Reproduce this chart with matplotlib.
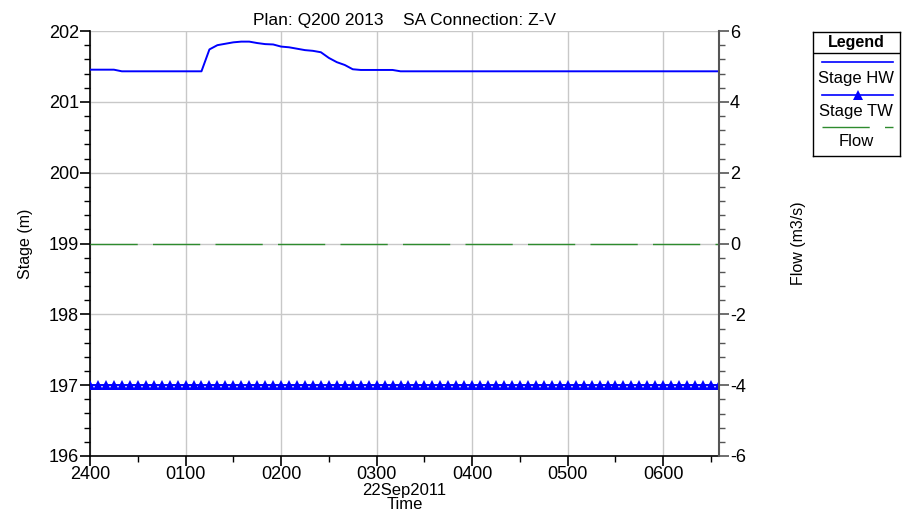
import numpy as np
import matplotlib
matplotlib.use("Agg")
import matplotlib.pyplot as plt
from matplotlib.ticker import MultipleLocator

plt.rcParams["font.family"] = ["Liberation Sans", "DejaVu Sans"]
plt.rcParams["lines.scale_dashes"] = False
plt.rcParams["axes.unicode_minus"] = False

# 5-minute output, minutes after midnight 22Sep2011
minutes = np.arange(0, 400, 5)
stage_hw = ([201.454] * 4 + [201.431] * 11 +
            [201.74, 201.80, 201.82, 201.84, 201.85, 201.85, 201.83, 201.815,
             201.81, 201.78, 201.77, 201.75, 201.73, 201.72, 201.70, 201.62,
             201.56, 201.52, 201.46] +
            [201.45] * 5)
stage_hw = stage_hw + [201.431] * (len(minutes) - len(stage_hw))
stage_tw = [197.0] * len(minutes)
flow = [0.0] * len(minutes)

hour_ticks = [0, 60, 120, 180, 240, 300, 360]
hour_labels = ["2400", "0100", "0200", "0300", "0400", "0500", "0600"]

BLUE = "#0000ff"
GREEN = "#2e8b2e"
GRID = "#c8c8c8"

fig = plt.figure(figsize=(9.02, 5.15), dpi=100)
ax = fig.add_axes([90 / 902, 59 / 515, 629 / 902, 425 / 515])
ax2 = ax.twinx()

ax.plot(minutes, stage_hw, color=BLUE, lw=1.4, zorder=3)
ax.plot(minutes, stage_tw, color=BLUE, lw=1.4, marker="^", ms=7.5,
        mew=0, zorder=3)
ax2.plot(minutes, flow, color=GREEN, lw=1.0, dashes=(34, 11))

ax.set_xlim(0, 395)
ax.set_ylim(196, 202)
ax2.set_ylim(-6, 6)

ax.set_xticks(hour_ticks)
ax.set_xticklabels(hour_labels)
ax.xaxis.set_minor_locator(MultipleLocator(30))
ax.yaxis.set_major_locator(MultipleLocator(1))
ax.yaxis.set_minor_locator(MultipleLocator(0.2))
ax2.yaxis.set_major_locator(MultipleLocator(2))
ax2.yaxis.set_minor_locator(MultipleLocator(0.4))

ax.grid(True, which="major", color=GRID, lw=1.0)
ax.set_axisbelow(True)

for a in (ax, ax2):
    a.spines["top"].set_visible(False)
ax.spines["right"].set_visible(False)
ax2.spines["left"].set_visible(False)
ax2.spines["bottom"].set_visible(False)
ax2.spines["right"].set_color("#555555")
ax2.spines["right"].set_linewidth(1.5)
ax.spines["left"].set_linewidth(1.2)
ax.spines["bottom"].set_linewidth(1.2)

ax.tick_params(which="major", length=7, width=1.2, labelsize=13, pad=1)
ax.tick_params(which="minor", length=4, width=1.0)
ax.tick_params(axis="x", which="major", pad=0)
ax2.tick_params(which="major", length=7, width=1.2, labelsize=13,
                color="#555555", pad=1)
ax2.tick_params(which="minor", length=4, width=1.0, color="#555555")

ax.set_ylabel("Stage (m)", fontsize=11.5, labelpad=11)
ax2.set_ylabel("Flow (m3/s)", fontsize=11.5, labelpad=32)
ax2.yaxis.label.set_rotation(90)
ax.set_xlabel("22Sep2011\nTime", fontsize=12, linespacing=0.95, labelpad=0)
ax.set_title("Plan: Q200 2013    SA Connection: Z-V", fontsize=12.5, pad=4)

# legend panel drawn in pixel coordinates
lg = fig.add_axes([813 / 902, (515 - 156) / 515, 87 / 902, 124 / 515])
lg.set_xlim(813, 900)
lg.set_ylim(156, 32)
lg.set_xticks([])
lg.set_yticks([])
for s in lg.spines.values():
    s.set_linewidth(1.0)
lg.axhline(53, color="black", lw=1.0)
lg.text(856, 42, "Legend", ha="center", va="center", fontsize=11.5,
        fontweight="bold")
lg.plot([822, 893], [62, 62], color=BLUE, lw=1.2)
lg.text(856, 79, "Stage HW", ha="center", va="center", fontsize=12)
lg.plot([822, 893], [95, 95], color=BLUE, lw=1.2)
lg.plot([858], [95], color=BLUE, marker="^", ms=7, mew=0)
lg.text(856, 111, "Stage TW", ha="center", va="center", fontsize=12)
lg.plot([822, 893], [127, 127], color=GREEN, lw=1.0, dashes=(34, 11))
lg.text(856, 141, "Flow", ha="center", va="center", fontsize=12)

fig.savefig("out.png", dpi=100)
